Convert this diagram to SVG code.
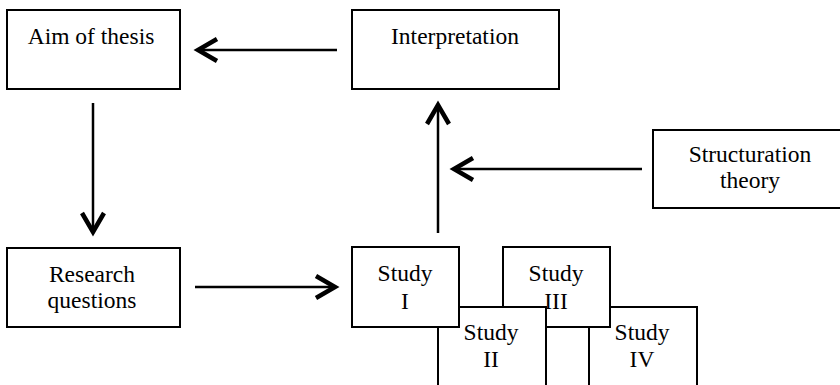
<svg xmlns="http://www.w3.org/2000/svg" width="840" height="385" viewBox="0 0 840 385">
  <defs>
    <style>
      .box { fill: #ffffff; stroke: #000000; stroke-width: 2; }
      .lbl { font-family: "Liberation Serif", "Times New Roman", serif; font-size: 23.5px; fill: #000000; text-anchor: middle; }
      .conn { stroke: #000000; stroke-width: 2.5; fill: none; }
    </style>
    <marker id="arrow" markerUnits="userSpaceOnUse" markerWidth="40" markerHeight="40" viewBox="-30 -20 40 40" refX="0" refY="0" orient="auto" overflow="visible">
      <path d="M-20,-11 L-1,0 L-20,11" fill="none" stroke="#000000" stroke-width="4.5" stroke-linejoin="miter" stroke-miterlimit="10"/>
    </marker>
  </defs>
  <rect width="840" height="385" fill="#ffffff"/>

  <g id="aim">
    <rect class="box" x="7" y="10" width="173" height="79"/>
    <text class="lbl" x="91" y="44">Aim of thesis</text>
  </g>
  <g id="interpretation">
    <rect class="box" x="352" y="10" width="207" height="79"/>
    <text class="lbl" x="455" y="44">Interpretation</text>
  </g>
  <g id="structuration">
    <rect class="box" x="653" y="130" width="200" height="78"/>
    <text class="lbl" x="750" y="162">Structuration</text>
    <text class="lbl" x="750" y="188">theory</text>
  </g>
  <g id="research">
    <rect class="box" x="7" y="248" width="173" height="79"/>
    <text class="lbl" x="92" y="282">Research</text>
    <text class="lbl" x="92" y="308">questions</text>
  </g>

  <g id="study4">
    <rect class="box" x="589" y="307" width="108" height="100"/>
    <text class="lbl" x="642" y="340">Study</text>
    <text class="lbl" x="642" y="367">IV</text>
  </g>
  <g id="study3">
    <rect class="box" x="503" y="247" width="107" height="80"/>
    <text class="lbl" x="556" y="281">Study</text>
    <text class="lbl" x="556" y="309">III</text>
  </g>
  <g id="study2">
    <rect class="box" x="438" y="307" width="108" height="100"/>
    <text class="lbl" x="491" y="340">Study</text>
    <text class="lbl" x="491" y="367">II</text>
  </g>
  <g id="study1">
    <rect class="box" x="352" y="247" width="107" height="80"/>
    <text class="lbl" x="405" y="281">Study</text>
    <text class="lbl" x="405" y="309">I</text>
  </g>

  <g id="connectors">
    <line class="conn" x1="337" y1="50" x2="197" y2="50" marker-end="url(#arrow)"/>
    <line class="conn" x1="93" y1="103" x2="93" y2="233" marker-end="url(#arrow)"/>
    <line class="conn" x1="195" y1="287" x2="336" y2="287" marker-end="url(#arrow)"/>
    <line class="conn" x1="438" y1="233" x2="438" y2="104" marker-end="url(#arrow)"/>
    <line class="conn" x1="642" y1="169" x2="453" y2="169" marker-end="url(#arrow)"/>
  </g>
</svg>
